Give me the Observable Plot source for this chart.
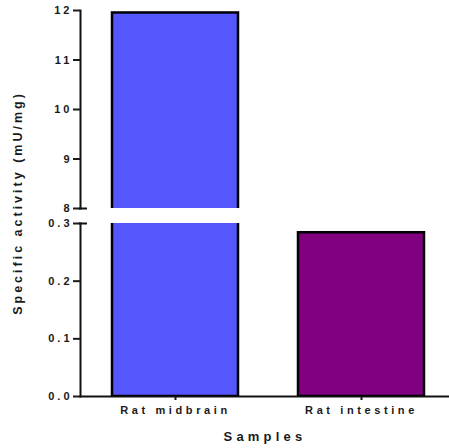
<!DOCTYPE html>
<html>
<head>
<meta charset="utf-8">
<script src="https://cdn.jsdelivr.net/npm/d3@7"></script>
<script src="https://cdn.jsdelivr.net/npm/@observablehq/plot@0.6"></script>
<style>
  body { margin: 0; background: #fff; }
  #chart { position: relative; width: 449px; height: 448px; }
  #chart svg { display: block; font-family: "Liberation Sans", Arial, sans-serif; }
  g[aria-label="y-axis tick label"] text { letter-spacing: 3px; }
  g[aria-label="x-axis tick label"] text { letter-spacing: 3.6px; }
  g[aria-label="x-axis label"] text { letter-spacing: 4.2px; }
  #ylabel {
    position: absolute; left: 18px; top: 203px;
    transform: translate(-50%, -50%) rotate(-90deg);
    white-space: nowrap; font: bold 12.5px "Liberation Sans", Arial, sans-serif;
    letter-spacing: 3px; color: #1a1a1a;
  }
</style>
</head>
<body>
<div id="chart"><div id="ylabel">Specific activity (mU/mg)</div></div>
<script>
const samples = ["Rat midbrain", "Rat intestine"];
const activity = [11.95, 0.284];
const colors = ["#5656fd", "#800080"];
const upperTicks = [8, 9, 10, 11, 12];
const lowerTicks = [0, 0.1, 0.2, 0.3];
const upperDomain = [8, 12];
const lowerDomain = [0, 0.3];

const data = samples.map((s, i) => ({sample: s, value: activity[i], color: colors[i]}));

const W = 449, mL = 80;
const xOpts = {domain: samples, range: [mL, 456], paddingInner: 0.32, paddingOuter: 0.166, align: 0.5};
const common = {
  width: W, marginLeft: mL, marginRight: 0,
  style: {fontFamily: "Liberation Sans, Arial, sans-serif", color: "#1a1a1a", background: "#fff"},
  x: xOpts
};
const bars = () => Plot.barY(data, {x: "sample", y: "value", fill: "color", stroke: "#000", strokeWidth: 2.5, clip: true});
const yAxis = (ticks, fmt) => Plot.axisY({
  ticks, tickSize: 7, tickPadding: 1, strokeWidth: 2, tickFormat: fmt,
  fontSize: 11, fontWeight: "bold", label: null
});
const breakMark = (v) => Plot.ruleY([v], {stroke: "#111", strokeWidth: 2, insetRight: W - mL - 7, insetLeft: -1});

const upper = Plot.plot({
  ...common,
  height: 215, marginTop: 10, marginBottom: 7,
  y: {domain: upperDomain, nice: false, zero: false},
  marks: [
    Plot.frame({anchor: "left", stroke: "#111", strokeWidth: 2}),
    bars(),
    yAxis(upperTicks, d => String(d)),
    breakMark(upperDomain[0]),
    Plot.axisX({ticks: [], label: null})
  ]
});

const lower = Plot.plot({
  ...common,
  height: 233, marginTop: 8, marginBottom: 52,
  y: {domain: lowerDomain, nice: false, zero: false},
  marks: [
    Plot.frame({anchor: "left", stroke: "#111", strokeWidth: 2}),
    Plot.frame({anchor: "bottom", stroke: "#111", strokeWidth: 2}),
    bars(),
    yAxis(lowerTicks, d => d.toFixed(1)),
    breakMark(lowerDomain[1]),
    Plot.axisX({
      tickSize: 4, tickPadding: 6, strokeWidth: 2,
      fontSize: 11, fontWeight: "bold",
      label: "Samples", labelAnchor: "center", labelArrow: "none", labelOffset: 44
    })
  ]
});
lower.querySelectorAll('g[aria-label="x-axis label"] text').forEach(t => {
  t.setAttribute("font-weight", "bold");
  t.setAttribute("font-size", "13");
});
const chart = document.getElementById("chart");
chart.appendChild(upper);
chart.appendChild(lower);
</script>
</body>
</html>
